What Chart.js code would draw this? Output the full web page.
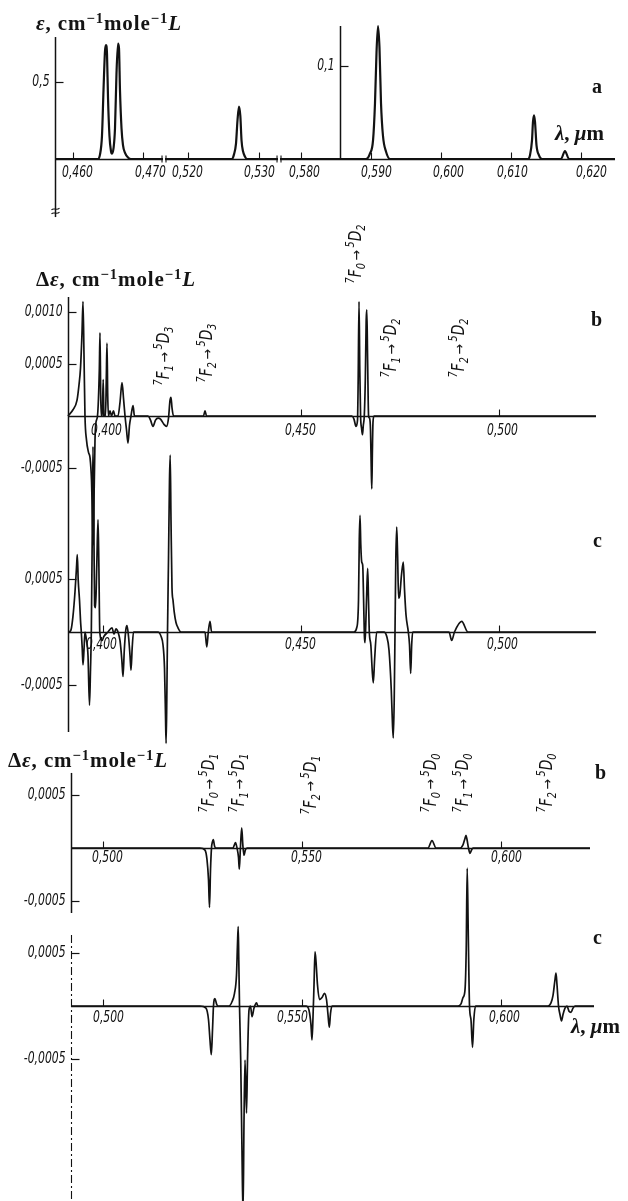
<!DOCTYPE html>
<html>
<head>
<meta charset="utf-8">
<title>Eu(III) absorption and Δε spectra</title>
<script src="https://cdn.jsdelivr.net/npm/chart.js@4.4.1/dist/chart.umd.min.js"></script>
<style>
  html, body { margin: 0; padding: 0; background: #fff; }
  #wrap { position: relative; width: 628px; height: 1201px; overflow: hidden; background: #fff; }
  #spec { position: absolute; left: 0; top: 0; }
  .ttl { position: absolute; font-family: "Liberation Serif", "DejaVu Serif", serif; font-weight: bold;
         font-size: 21px; line-height: 1; color: #141414; white-space: nowrap; letter-spacing: 0.9px; }
  .ttl sup { font-size: 0.7em; vertical-align: 0.45em; line-height: 0; }
  .unit { position: absolute; font-family: "Liberation Serif", "DejaVu Serif", serif; font-weight: bold;
          font-size: 21px; line-height: 1; color: #141414; white-space: nowrap; }
  .tag { position: absolute; font-family: "Liberation Serif", "DejaVu Serif", serif; font-weight: bold;
         font-size: 20px; line-height: 1; color: #141414; }
</style>
</head>
<body>
<div id="wrap">
  <canvas id="spec" width="628" height="1201"></canvas>

  <div class="ttl" style="left:36px; top:13px;"><i>ε</i>, cm<sup>−1</sup>mole<sup>−1</sup><i>L</i></div>
  <div class="ttl" style="left:36px; top:269px;">Δ<i>ε</i>, cm<sup>−1</sup>mole<sup>−1</sup><i>L</i></div>
  <div class="ttl" style="left:8px; top:750px;">Δ<i>ε</i>, cm<sup>−1</sup>mole<sup>−1</sup><i>L</i></div>
  <div class="unit" style="left:555px; top:123px;"><i>λ</i>, <i>μ</i>m</div>
  <div class="unit" style="left:571px; top:1016px;"><i>λ</i>, <i>μ</i>m</div>

  <div class="tag" style="left:592px; top:76px;">a</div>
  <div class="tag" style="left:591px; top:309px;">b</div>
  <div class="tag" style="left:593px; top:530px;">c</div>
  <div class="tag" style="left:595px; top:762px;">b</div>
  <div class="tag" style="left:593px; top:927px;">c</div>
</div>

<script>
// ---------------------------------------------------------------------------
// Panel a — absorption ε (cm⁻¹·mole⁻¹·L) over three broken wavelength ranges (μm)
// ---------------------------------------------------------------------------
const a1Wl  = [0.45743, 0.46357, 0.46386, 0.46414, 0.46436, 0.46457, 0.46471, 0.46486,
               0.46500, 0.46521, 0.46543, 0.46557, 0.46579, 0.46600, 0.46621, 0.46643,
               0.46657, 0.46671, 0.46693, 0.46714, 0.46743, 0.46786, 0.46829, 0.47286];
const a1Eps = [0, 0, 0.03, 0.15, 0.45, 0.70, 0.74, 0.68,
               0.40, 0.15, 0.05, 0.035, 0.07, 0.20, 0.55, 0.75,
               0.72, 0.45, 0.20, 0.09, 0.04, 0.01, 0, 0];

const a2Wl  = [0.51676, 0.52620, 0.52648, 0.52676, 0.52697, 0.52718, 0.52737, 0.52754,
               0.52775, 0.52803, 0.52831, 0.53268];
const a2Eps = [0, 0, 0.03, 0.10, 0.25, 0.34, 0.28, 0.12,
               0.05, 0.015, 0, 0];

const a3Wl  = [0.57700, 0.58929, 0.58986, 0.59029, 0.59057, 0.59079, 0.59100, 0.59121,
               0.59143, 0.59171, 0.59214, 0.59271, 0.61243, 0.61271, 0.61300, 0.61314,
               0.61329, 0.61343, 0.61364, 0.61400, 0.61443, 0.61714, 0.61771, 0.61829, 0.62486];
const a3Eps = [0, 0, 0.006, 0.02, 0.06, 0.115, 0.143, 0.12,
               0.06, 0.025, 0.008, 0, 0, 0.004, 0.02, 0.04,
               0.047, 0.04, 0.015, 0.004, 0, 0, 0.0086, 0, 0];

const aXTicks1 = [0.460, 0.470];
const aXLbl1   = ['0,460', '0,470'];
const aXTicks2 = [0.520, 0.530];
const aXLbl2   = ['0,520', '0,530'];
const aXTicks3 = [0.580, 0.590, 0.600, 0.610, 0.620];
const aXLbl3   = ['0,580', '0,590', '0,600', '0,610', '0,620'];
const aYTicks  = [0.5];
const aYLbl    = ['0,5'];
const a3YTicks = [0.1];
const a3YLbl   = ['0,1'];

// ---------------------------------------------------------------------------
// Panels b, c — Δε over 0.39–0.52 μm
// ---------------------------------------------------------------------------
const b1Wl = [0.39116, 0.39242, 0.39343, 0.39394, 0.39432, 0.39470, 0.39495, 0.39520,
              0.39545, 0.39583, 0.39634, 0.39672, 0.39710, 0.39735, 0.39755, 0.39773,
              0.39798, 0.39823, 0.39861, 0.39907, 0.39924, 0.39942, 0.39957, 0.39982,
              0.40005, 0.40025, 0.40063, 0.40083, 0.40101, 0.40119, 0.40139, 0.40177,
              0.40215, 0.40265, 0.40303, 0.40379, 0.40429, 0.40480, 0.40518, 0.40556,
              0.40593, 0.40631, 0.40669, 0.40707, 0.40758, 0.40795, 0.41136, 0.41200,
              0.41263, 0.41326, 0.41389, 0.41452, 0.41540, 0.41604, 0.41654, 0.41692,
              0.41717, 0.41742, 0.41780, 0.42538, 0.42576, 0.42614, 0.46288, 0.46338,
              0.46389, 0.46427, 0.46444, 0.46465, 0.46485, 0.46505, 0.46530, 0.46553,
              0.46573, 0.46598, 0.46624, 0.46646, 0.46662, 0.46682, 0.46707, 0.46730,
              0.46755, 0.46775, 0.46788, 0.46803, 0.46818, 0.46843, 0.52449];
const b1De = [0, 0.00006, 0.00015, 0.0003, 0.00046, 0.0008, 0.0011, 0.00059,
              0, -0.00023, -0.00035, -0.0004, -0.00062, -0.001, -0.00124, -0.00081,
              -0.00023, -0.00006, 0, 0.00044, 0.0008, 0.0002, 0, 0,
              0.00035, 0, 0, 0.00035, 0.0007, 0.0002, 0, 0.00005,
              0, 0.00005, 0, 0, 0.00013, 0.00032, 0.00017, 0,
              -0.00013, -0.00026, -0.00009, 0, 0.0001, 0, 0, -0.00004,
              -0.0001, -0.00004, -0.00002, -0.00003, -0.00008, -0.0001, -0.00002, 0.00015,
              0.00018, 0.00008, 0, 0, 0.00005, 0, 0, -0.00003,
              -0.0001, -0.00004, 0.00035, 0.0011, 0.00044, 0, -0.00012, -0.00018,
              -0.00009, 0, 0.00035, 0.00092, 0.00102, 0.00054, 0, -0.00002,
              -0.00013, -0.00052, -0.0007, -0.00033, -0.00006, 0, 0];

const c1Wl = [0.39141, 0.39192, 0.39242, 0.39293, 0.39331, 0.39351, 0.39374, 0.39407,
              0.39432, 0.39452, 0.39475, 0.39495, 0.39520, 0.39545, 0.39583, 0.39621,
              0.39659, 0.39684, 0.39705, 0.39727, 0.39747, 0.39768, 0.39788, 0.39813,
              0.39843, 0.39874, 0.39894, 0.39919, 0.39975, 0.40025, 0.40126, 0.40227,
              0.40278, 0.40328, 0.40379, 0.40429, 0.40475, 0.40505, 0.40538, 0.40576,
              0.40606, 0.40644, 0.40682, 0.40707, 0.40737, 0.40770, 0.41389, 0.41465,
              0.41515, 0.41553, 0.41578, 0.41593, 0.41611, 0.41629, 0.41654, 0.41679,
              0.41697, 0.41717, 0.41742, 0.41768, 0.41798, 0.41843, 0.41894, 0.41970,
              0.42576, 0.42621, 0.42659, 0.42702, 0.42742, 0.46338, 0.46407, 0.46452,
              0.46472, 0.46490, 0.46510, 0.46533, 0.46558, 0.46581, 0.46601, 0.46616,
              0.46636, 0.46662, 0.46684, 0.46705, 0.46725, 0.46763, 0.46798, 0.46826,
              0.46859, 0.46912, 0.47096, 0.47164, 0.47222, 0.47280, 0.47311, 0.47331,
              0.47354, 0.47374, 0.47394, 0.47417, 0.47439, 0.47465, 0.47495, 0.47538,
              0.47583, 0.47614, 0.47652, 0.47710, 0.47740, 0.47770, 0.47795, 0.47821,
              0.48737, 0.48806, 0.48876, 0.49058, 0.49217, 0.52449];
const c1De = [0, 0.00002, 0.00015, 0.00038, 0.00061, 0.00073, 0.00049, 0.0003,
              0.00011, 0, -0.00015, -0.00031, -0.00017, 0, -0.00008, -0.00022,
              -0.00069, -0.00036, 0, 0.00087, 0.00175, 0.00106, 0.00025, 0.00023,
              0.00063, 0.00106, 0.00068, 0, -0.00008, -0.00004, 0, 0.00004,
              -0.00002, 0.00003, 0, -0.00008, -0.00026, -0.00042, -0.00017, 0.00002,
              0.00006, -0.00004, -0.00022, -0.00036, -0.00015, 0, 0, -0.00004,
              -0.00012, -0.00034, -0.00078, -0.00105, -0.00064, 0, 0.00068, 0.00143,
              0.00167, 0.00106, 0.00042, 0.0003, 0.00019, 0.00009, 0.00004, 0,
              0, -0.00014, 0, 0.0001, 0, 0, 0.00004, 0.0003,
              0.00087, 0.0011, 0.00082, 0.00066, 0.00063, 0.0003, -0.00004, -0.0001,
              0.00007, 0.0004, 0.0006, 0.0003, 0, -0.00012, -0.00036, -0.00048,
              -0.00026, 0, 0, -0.00004, -0.00017, -0.00055, -0.00088, -0.001,
              -0.00064, 0, 0.00068, 0.00099, 0.00073, 0.00032, 0.00035, 0.00054,
              0.00066, 0.0004, 0.00016, 0, -0.00012, -0.00039, -0.00012, 0,
              0, -0.00008, 0, 0.0001, 0, 0];

const bcXTicks = [0.400, 0.450, 0.500];
const bcXLbl   = ['0,400', '0,450', '0,500'];
const b1YTicks = [0.0010, 0.0005, -0.0005];
const b1YLbl   = ['0,0010', '0,0005', '-0,0005'];
const c1YTicks = [0.0005, -0.0005];
const c1YLbl   = ['0,0005', '-0,0005'];

// transitions marked above panel b (upper wavelength range)
const trans1     = ['7F1→5D3', '7F2→5D3', '7F0→5D2', '7F1→5D2', '7F2→5D2'];
const trans1Wl   = [0.41566, 0.42652, 0.46414, 0.47298, 0.49015];

// ---------------------------------------------------------------------------
// Panels b, c — Δε over 0.49–0.62 μm
// ---------------------------------------------------------------------------
const b2Wl = [0.49196, 0.52437, 0.52563, 0.52613, 0.52651, 0.52676, 0.52701, 0.52726,
              0.52751, 0.52771, 0.52802, 0.52839, 0.53266, 0.53329, 0.53367, 0.53405,
              0.53425, 0.53450, 0.53485, 0.53513, 0.53543, 0.53575, 0.53618, 0.58166,
              0.58266, 0.58367, 0.58970, 0.59045, 0.59095, 0.59121, 0.59146, 0.59183,
              0.59221, 0.59259, 0.59296, 0.62236];
const b2De = [0, 0, -0.00002, -0.00011, -0.0003, -0.00056, -0.00021, 0,
              0.00006, 0.00008, 0.00002, 0, 0, 0.00005, 0, -0.00009,
              -0.0002, -0.00002, 0.00019, 0.00003, -0.00007, -0.00002, 0, 0,
              0.00007, 0, 0, 0.00003, 0.00009, 0.00012, 0.00008, 0,
              -0.00005, -0.00002, 0, 0];

const c2Wl = [0.49196, 0.52437, 0.52588, 0.52651, 0.52688, 0.52721, 0.52751, 0.52776,
              0.52814, 0.52852, 0.52889, 0.53166, 0.53241, 0.53304, 0.53354, 0.53379,
              0.53397, 0.53412, 0.53430, 0.53460, 0.53492, 0.53518, 0.53543, 0.53568,
              0.53606, 0.53631, 0.53668, 0.53706, 0.53744, 0.53794, 0.53857, 0.53894,
              0.55101, 0.55176, 0.55226, 0.55251, 0.55276, 0.55302, 0.55327, 0.55352,
              0.55389, 0.55440, 0.55503, 0.55565, 0.55616, 0.55653, 0.55686, 0.55716,
              0.55754, 0.58920, 0.58995, 0.59045, 0.59095, 0.59126, 0.59151, 0.59176,
              0.59209, 0.59246, 0.59284, 0.59317, 0.59359, 0.61181, 0.61256, 0.61307,
              0.61357, 0.61382, 0.61407, 0.61445, 0.61482, 0.61520, 0.61558, 0.61608,
              0.61658, 0.61709, 0.61759, 0.61809, 0.61859, 0.62337];
const c2De = [0, 0, -0.00002, -0.00013, -0.00032, -0.00046, -0.00023, 0,
              0.00007, 0.00002, 0, 0, 0.00004, 0.00012, 0.00029, 0.00058,
              0.00075, 0.00043, 0, -0.00051, -0.00136, -0.00197, -0.00108, -0.00051,
              -0.00101, -0.00051, -0.00004, 0, -0.0001, -0.00002, 0.00003, 0,
              0, -0.00004, -0.00018, -0.00032, -0.00011, 0.0002, 0.00051, 0.00042,
              0.0002, 0.00006, 0.00008, 0.00012, 0.00006, -0.00008, -0.0002, -0.00007,
              0, 0, 0.00002, 0.00008, 0.00015, 0.00053, 0.0013, 0.00072,
              0, -0.00013, -0.00039, -0.00013, 0, 0, 0.00003, 0.0001,
              0.00025, 0.00031, 0.0002, 0, -0.00008, -0.00014, -0.00008, -0.00002,
              0, -0.00005, -0.00006, -0.00002, 0, 0];

const deXTicks = [0.500, 0.550, 0.600];
const deXLbl   = ['0,500', '0,550', '0,600'];
const b2YTicks = [0.0005, -0.0005];
const b2YLbl   = ['0,0005', '-0,0005'];
const c2YTicks = [0.0005, -0.0005];
const c2YLbl   = ['0,0005', '-0,0005'];

const trans2   = ['7F0→5D1', '7F1→5D1', '7F2→5D1', '7F0→5D0', '7F1→5D0', '7F2→5D0'];
const trans2Wl = [0.52688, 0.53442, 0.55244, 0.58259, 0.59070, 0.61181];

// ---------------------------------------------------------------------------
// Layout: every scale is fixed by two [value, canvas pixel] pairs
// ---------------------------------------------------------------------------
const W = 628, H = 1201;
const INK = '#121212';
const NARROW = '"Liberation Sans Narrow", "DejaVu Sans Condensed", "Arial Narrow", sans-serif';
const SQUEEZE = 0.8;   // tall, narrow hand-lettered numerals

const CAL = {
  xa1: [[0.460, 73],  [0.470, 143]],
  xa2: [[0.520, 188], [0.530, 259]],
  xa3: [[0.580, 301], [0.620, 581]],
  ya:  [[0, 159],     [0.5, 82]],
  ya3: [[0, 159],     [0.1, 66]],
  xb:  [[0.450, 301], [0.500, 499]],
  yb:  [[0, 416],     [0.001, 312]],
  yc:  [[0, 632],     [0.0005, 579]],
  xd:  [[0.500, 103], [0.550, 302]],
  yd:  [[0, 848],     [0.0005, 795]],
  ye:  [[0, 1006],    [0.0005, 953]]
};

function linScale(id, axis) {
  const [[v1, p1], [v2, p2]] = CAL[id];
  const k = (p2 - p1) / (v2 - v1);
  const size = axis === 'x' ? W : H;
  const e0 = v1 + (0 - p1) / k;
  const e1 = v1 + (size - p1) / k;
  return { type: 'linear', axis: axis, position: axis === 'x' ? 'bottom' : 'left',
           display: false, min: Math.min(e0, e1), max: Math.max(e0, e1),
           grace: 0, ticks: { display: false }, grid: { display: false } };
}

// horizontal (wavelength) axes, drawn at Δε = 0 / ε = 0
const H_AXES = [
  { x: 'xa1', y: 'ya',  from: 0.45743, to: 0.47286, ticks: aXTicks1, labels: aXLbl1, dy: 14, dx: [4, 7], brkR: true },
  { x: 'xa2', y: 'ya',  from: 0.51676, to: 0.53268, ticks: aXTicks2, labels: aXLbl2, dy: 14, dx: [-1, 0], brkL: true, brkR: true },
  { x: 'xa3', y: 'ya3', from: 0.57700, to: 0.62486, ticks: aXTicks3, labels: aXLbl3, dy: 14, dx: [3, 5, 7, 1, 10], brkL: true },
  { x: 'xb',  y: 'yb',  from: 0.39116, to: 0.52449, ticks: bcXTicks, labels: bcXLbl, dy: 15, dx: [3, -1, 3] },
  { x: 'xb',  y: 'yc',  from: 0.39141, to: 0.52449, ticks: bcXTicks, labels: bcXLbl, dy: 13, dx: [-2, -1, 3] },
  { x: 'xd',  y: 'yd',  from: 0.49196, to: 0.62236, ticks: deXTicks, labels: deXLbl, dy: 10, dx: [4, 4, 5] },
  { x: 'xd',  y: 'ye',  from: 0.49196, to: 0.62337, ticks: deXTicks, labels: deXLbl, dy: 12, dx: [5, -10, 3] }
];

// vertical (ε / Δε) axes
const V_AXES = [
  { x: 'xa1', at: 0.45743, top: ['ya', 0.792], bottom: ['ya', -0.377], squiggle: true,
    groups: [['ya', aYTicks, aYLbl]] },
  { x: 'xa3', at: 0.58557, top: ['ya3', 0.143], bottom: ['ya3', 0],
    groups: [['ya3', a3YTicks, a3YLbl]] },
  { x: 'xb', at: 0.39116, top: ['yb', 0.001144], bottom: ['yc', -0.000943],
    groups: [['yb', b1YTicks, b1YLbl], ['yc', c1YTicks, c1YLbl]] },
  { x: 'xd', at: 0.49196, top: ['yd', 0.000708], bottom: ['yd', -0.000613],
    groups: [['yd', b2YTicks, b2YLbl]] },
  { x: 'xd', at: 0.49196, top: ['ye', 0.00067], bottom: ['ye', -0.00184], dashed: true,
    groups: [['ye', c2YTicks, c2YLbl]] }
];

// vertical placement (canvas px) of the rotated transition labels
const TERM_ROWS = [
  { x: 'xb', terms: trans1, wl: trans1Wl, rows: [356, 353, 254, 348, 348] },
  { x: 'xd', terms: trans2, wl: trans2Wl, rows: [783, 783, 785, 783, 783, 783] }
];

function squeezedText(ctx, txt, x, y, align) {
  ctx.save();
  ctx.translate(x, y);
  ctx.scale(SQUEEZE, 1);
  ctx.textAlign = align;
  ctx.fillText(txt, 0, 0);
  ctx.restore();
}

function drawTerm(ctx, term, cx, cy) {
  const big = 'italic 17px ' + NARROW;
  const small = 'italic 12px ' + NARROW;
  const parts = [
    { t: term[0], f: small, dy: -6 }, { t: term[1], f: big, dy: 0 }, { t: term[2], f: small, dy: 5 },
    { t: '\u2009→\u2009', f: '14px "DejaVu Sans", sans-serif', dy: 0 },
    { t: term[4], f: small, dy: -6 }, { t: term[5], f: big, dy: 0 }, { t: term[6], f: small, dy: 5 }
  ];
  let total = 0;
  parts.forEach(p => { ctx.font = p.f; p.w = ctx.measureText(p.t).width * 0.9; total += p.w; });
  ctx.save();
  ctx.translate(cx, cy);
  ctx.rotate(-Math.PI / 2);
  ctx.textBaseline = 'middle';
  ctx.textAlign = 'left';
  let x = -total / 2;
  parts.forEach(p => {
    ctx.font = p.f;
    ctx.save(); ctx.translate(x, p.dy); ctx.scale(0.9, 1); ctx.fillText(p.t, 0, 0); ctx.restore();
    x += p.w;
  });
  ctx.restore();
}

const framePlugin = {
  id: 'frame',
  afterDatasetsDraw(chart) {
    const ctx = chart.ctx;
    const S = chart.scales;
    ctx.save();
    ctx.strokeStyle = INK;
    ctx.fillStyle = INK;
    ctx.lineCap = 'butt';

    // wavelength axes with inward ticks and italic labels
    H_AXES.forEach(a => {
      const xs = S[a.x], ys = S[a.y];
      const y0 = Math.round(ys.getPixelForValue(0)) + 0.5;
      const xL = xs.getPixelForValue(a.from), xR = xs.getPixelForValue(a.to);
      ctx.lineWidth = 1.5;
      ctx.beginPath(); ctx.moveTo(xL, y0); ctx.lineTo(xR, y0); ctx.stroke();
      ctx.lineWidth = 1.1;
      if (a.brkL) { ctx.beginPath(); ctx.moveTo(xL + 1, y0 - 4); ctx.lineTo(xL + 1, y0 + 3); ctx.stroke(); }
      if (a.brkR) { ctx.beginPath(); ctx.moveTo(xR - 1, y0 - 4); ctx.lineTo(xR - 1, y0 + 3); ctx.stroke(); }
      ctx.font = 'italic 15px ' + NARROW;
      ctx.textBaseline = 'middle';
      a.ticks.forEach((t, i) => {
        const px = Math.round(xs.getPixelForValue(t)) + 0.5;
        ctx.beginPath(); ctx.moveTo(px, y0); ctx.lineTo(px, y0 - 7); ctx.stroke();
        squeezedText(ctx, a.labels[i], px + a.dx[i], y0 + a.dy, 'center');
      });
    });

    // value axes with inward ticks
    V_AXES.forEach(a => {
      const xs = S[a.x];
      const x0 = Math.round(xs.getPixelForValue(a.at)) + 0.5;
      const yT = S[a.top[0]].getPixelForValue(a.top[1]);
      const yB = S[a.bottom[0]].getPixelForValue(a.bottom[1]);
      ctx.lineWidth = a.dashed ? 1.1 : 1.5;
      ctx.setLineDash(a.dashed ? [8, 3, 2, 3] : []);
      ctx.beginPath(); ctx.moveTo(x0, yT); ctx.lineTo(x0, yB); ctx.stroke();
      ctx.setLineDash([]);
      ctx.lineWidth = 1.2;
      ctx.font = 'italic 15px ' + NARROW;
      ctx.textBaseline = 'middle';
      a.groups.forEach(([yId, ticks, labels]) => {
        ticks.forEach((t, i) => {
          const py = Math.round(S[yId].getPixelForValue(t)) + 0.5;
          ctx.beginPath(); ctx.moveTo(x0, py); ctx.lineTo(x0 + 8, py); ctx.stroke();
          squeezedText(ctx, labels[i], x0 - 6, py, 'right');
        });
      });
      if (a.squiggle) {
        ctx.lineWidth = 1.1;
        [yB - 8, yB - 4].forEach(yy => {
          ctx.beginPath();
          ctx.moveTo(x0 - 4, yy + 1);
          ctx.bezierCurveTo(x0 - 2, yy - 2, x0 + 1, yy + 2, x0 + 4, yy - 1);
          ctx.stroke();
        });
      }
    });

    // rotated transition labels
    TERM_ROWS.forEach(r => {
      r.terms.forEach((term, i) => {
        drawTerm(ctx, term, S[r.x].getPixelForValue(r.wl[i]), r.rows[i]);
      });
    });
    ctx.restore();
  }
};

function trace(wl, vals, xId, yId, width) {
  return {
    data: wl.map((w, i) => ({ x: w, y: vals[i] })),
    xAxisID: xId, yAxisID: yId,
    borderColor: INK, borderWidth: width,
    pointRadius: 0, fill: false, clip: false,
    cubicInterpolationMode: 'monotone'
  };
}

new Chart(document.getElementById('spec').getContext('2d'), {
  type: 'line',
  data: {
    datasets: [
      trace(a1Wl, a1Eps, 'xa1', 'ya', 2.2),
      trace(a2Wl, a2Eps, 'xa2', 'ya', 2.2),
      trace(a3Wl, a3Eps, 'xa3', 'ya3', 2.2),
      trace(b1Wl, b1De, 'xb', 'yb', 1.7),
      trace(c1Wl, c1De, 'xb', 'yc', 1.7),
      trace(b2Wl, b2De, 'xd', 'yd', 1.7),
      trace(c2Wl, c2De, 'xd', 'ye', 1.7)
    ]
  },
  options: {
    responsive: false,
    animation: false,
    devicePixelRatio: 1,
    events: [],
    layout: { padding: 0 },
    plugins: { legend: { display: false }, tooltip: { enabled: false }, title: { display: false } },
    scales: {
      xa1: linScale('xa1', 'x'), xa2: linScale('xa2', 'x'), xa3: linScale('xa3', 'x'),
      xb: linScale('xb', 'x'), xd: linScale('xd', 'x'),
      ya: linScale('ya', 'y'), ya3: linScale('ya3', 'y'),
      yb: linScale('yb', 'y'), yc: linScale('yc', 'y'),
      yd: linScale('yd', 'y'), ye: linScale('ye', 'y')
    }
  },
  plugins: [framePlugin]
});
</script>
</body>
</html>
